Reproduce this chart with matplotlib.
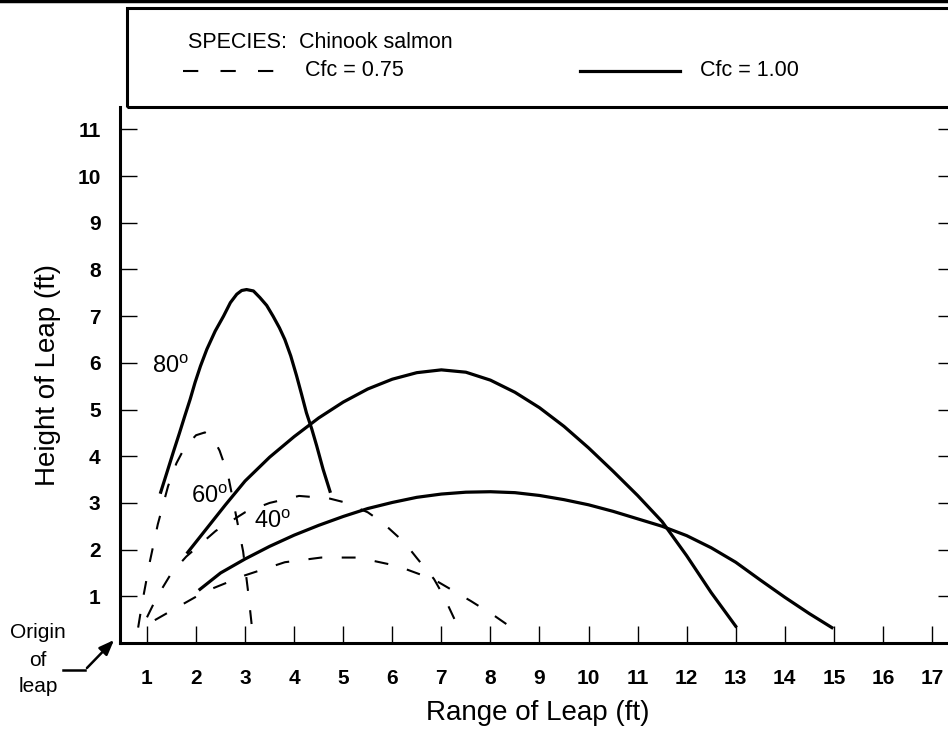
import matplotlib
matplotlib.use('Agg')
import matplotlib.pyplot as plt
from matplotlib.lines import Line2D
from matplotlib.patches import Rectangle

plt.rcParams['font.family'] = ['Liberation Sans', 'DejaVu Sans']
plt.rcParams['lines.scale_dashes'] = False

# curves (range ft, height ft)
solid80_x = [1.28, 1.40, 1.54, 1.66, 1.77, 1.88, 1.98, 2.09, 2.22, 2.39, 2.56, 2.70, 2.83, 2.93,
             3.03, 3.17, 3.30, 3.44, 3.57, 3.70, 3.81, 3.93, 4.05, 4.15, 4.25, 4.36, 4.46, 4.59, 4.73]
solid80_y = [3.23, 3.63, 4.10, 4.49, 4.86, 5.22, 5.58, 5.93, 6.29, 6.68, 7.00, 7.29, 7.47, 7.55,
             7.57, 7.54, 7.40, 7.23, 7.00, 6.75, 6.50, 6.15, 5.72, 5.33, 4.93, 4.58, 4.22, 3.72, 3.25]

solid60_x = [1.83, 2.2, 2.6, 3.0, 3.5, 4.0, 4.5, 5.0, 5.5, 6.0, 6.5, 7.0, 7.5, 8.0, 8.5, 9.0,
             9.5, 10.0, 10.5, 11.0, 11.5, 12.0, 12.5, 13.0]
solid60_y = [1.94, 2.43, 2.96, 3.47, 3.98, 4.42, 4.82, 5.16, 5.44, 5.65, 5.79, 5.85, 5.80, 5.63,
             5.37, 5.04, 4.64, 4.18, 3.68, 3.16, 2.60, 1.87, 1.08, 0.36]

solid40_x = [2.08, 2.5, 3.0, 3.5, 4.0, 4.5, 5.0, 5.5, 6.0, 6.5, 7.0, 7.5, 8.0, 8.5, 9.0, 9.5,
             10.0, 10.5, 11.0, 11.5, 12.0, 12.5, 13.0, 13.5, 14.0, 14.5, 14.96]
solid40_y = [1.15, 1.50, 1.80, 2.07, 2.31, 2.52, 2.71, 2.88, 3.01, 3.12, 3.19, 3.23, 3.24, 3.22,
             3.16, 3.07, 2.96, 2.82, 2.66, 2.50, 2.30, 2.04, 1.73, 1.35, 0.98, 0.63, 0.33]

dash80_x = [0.82, 0.90, 1.06, 1.22, 1.43, 1.60, 1.77, 2.00, 2.18, 2.33, 2.48, 2.65, 2.81, 2.96, 3.06, 3.16]
dash80_y = [0.33, 0.85, 1.75, 2.54, 3.36, 3.85, 4.19, 4.45, 4.51, 4.42, 4.12, 3.61, 2.76, 1.96, 1.11, 0.14]

dash60_x = [1.0, 1.2, 1.5, 1.8, 2.4, 3.0, 3.5, 4.1, 4.7, 5.0, 5.5, 5.8, 6.25, 6.5, 6.85, 7.05, 7.25, 7.42]
dash60_y = [0.55, 0.98, 1.50, 1.85, 2.40, 2.80, 3.00, 3.15, 3.10, 3.02, 2.80, 2.58, 2.15, 1.82, 1.37, 1.00, 0.55, 0.17]

dash40_x = [1.16, 1.61, 2.20, 3.0, 3.81, 4.55, 5.3, 6.1, 6.85, 7.6, 8.1, 8.58]
dash40_y = [0.49, 0.76, 1.11, 1.45, 1.73, 1.83, 1.83, 1.65, 1.36, 0.90, 0.57, 0.22]

x_ticks = list(range(1, 18))
y_ticks = list(range(1, 12))

W, H = 948, 731
fig = plt.figure(figsize=(W / 100, H / 100), dpi=100)

# axes box in pixels: left 120, right 955, top 107, bottom 643
ax = fig.add_axes([120 / W, (H - 643) / H, (955 - 120) / W, (643 - 107) / H])
ax.set_xlim(0.45, 17.47)
ax.set_ylim(0, 11.48)

lw_s, lw_d = 2.3, 1.5
dash = (10, 14)
for xs, ys in [(solid80_x, solid80_y), (solid60_x, solid60_y), (solid40_x, solid40_y)]:
    ax.plot(xs, ys, color='black', lw=lw_s, solid_joinstyle='round')
for xs, ys in [(dash80_x, dash80_y), (dash60_x, dash60_y), (dash40_x, dash40_y)]:
    ax.plot(xs, ys, color='black', lw=lw_d, dashes=dash)

ax.text(1.47, 5.92, '80$^\\mathregular{o}$', fontsize=17, ha='center', va='center')
ax.text(2.28, 3.14, '60$^\\mathregular{o}$', fontsize=17, ha='center', va='center')
ax.text(3.55, 2.61, '40$^\\mathregular{o}$', fontsize=17, ha='center', va='center')

ax.set_xticks(x_ticks)
ax.set_yticks(y_ticks)
ax.tick_params(axis='both', direction='in', length=12, width=1, labelsize=15)
ax.tick_params(axis='x', pad=19)
ax.tick_params(axis='y', pad=14, right=True)
for lab in ax.get_xticklabels() + ax.get_yticklabels():
    lab.set_fontweight('bold')
ax.spines['top'].set_visible(False)
ax.spines['left'].set_linewidth(2.2)
ax.spines['bottom'].set_linewidth(2.2)
ax.spines['right'].set_visible(False)

ax.set_xlabel('Range of Leap (ft)', fontsize=20, labelpad=8)
ax.set_ylabel('Height of Leap (ft)', fontsize=20, labelpad=12)

# legend box and top bar
fig.add_artist(Line2D([0, 1], [1 - 1 / H, 1 - 1 / H], color='black', lw=2.5))
fig.add_artist(Rectangle((127 / W, (H - 107) / H), 1.0, 99 / H, fill=False,
                         edgecolor='black', lw=2.2))
fig.text(188 / W, 1 - 42 / H, 'SPECIES:  Chinook salmon', fontsize=15.5, va='center')
fig.add_artist(Line2D([183 / W, 275 / W], [1 - 71 / H] * 2, color='black', lw=lw_d,
                      dashes=(11, 16)))
fig.text(305 / W, 1 - 71 / H, 'Cfc = 0.75', fontsize=15.5, va='center')
fig.add_artist(Line2D([580 / W, 680 / W], [1 - 71 / H] * 2, color='black', lw=lw_s))
fig.text(700 / W, 1 - 71 / H, 'Cfc = 1.00', fontsize=15.5, va='center')

# origin of leap note
fig.text(38 / W, 1 - 633 / H, 'Origin', fontsize=15, ha='center', va='center')
fig.text(38 / W, 1 - 660 / H, 'of', fontsize=15, ha='center', va='center')
fig.text(38 / W, 1 - 687 / H, 'leap', fontsize=15, ha='center', va='center')
fig.add_artist(Line2D([63 / W, 85 / W], [1 - 670 / H] * 2, color='black', lw=1.8))
ax.annotate('', xy=(116 / W, 1 - 638 / H), xycoords='figure fraction',
            xytext=(85 / W, 1 - 670 / H), textcoords='figure fraction',
            arrowprops=dict(arrowstyle='-|>,head_length=0.9,head_width=0.35',
                            color='black', lw=1.8), annotation_clip=False)

fig.savefig('out.png', dpi=100)
